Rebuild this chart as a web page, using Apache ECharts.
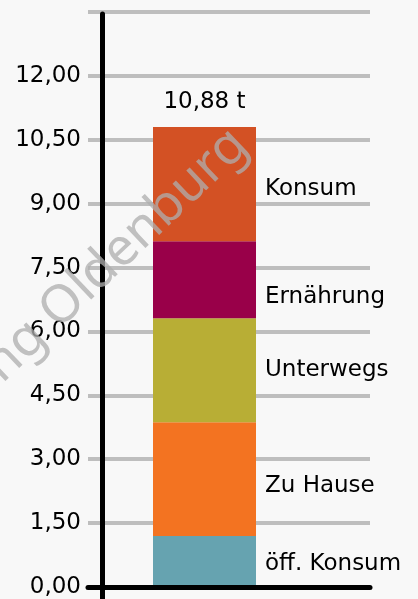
<!DOCTYPE html>
<html>
<head>
<meta charset="utf-8">
<script src="https://cdn.jsdelivr.net/npm/echarts@6/dist/echarts.min.js"></script>
<style>
html,body{margin:0;padding:0;background:#f8f8f8;}
#c{width:418px;height:599px;}
</style>
</head>
<body>
<div id="c"></div>
<script>
const categories = ['öff. Konsum', 'Zu Hause', 'Unterwegs', 'Ernährung', 'Konsum'];
const values = [1.20, 2.67, 2.44, 1.81, 2.68];
const statedTotal = 10.88;
const colors = ['#66a3b0', '#f37321', '#b8ae35', '#990049', '#d35124'];
const labelOffsets = [[0, 3], [0, 7], [0, 0], [0, 17], [0, 5]];
const yMin = 0, yMax = 13.5, yStep = 1.5;
const unit = 't';
const watermark = 'ng Oldenburg';

const FONT = "'DejaVu Sans', sans-serif";
const FS = 23;
const fmt = v => v.toFixed(2).replace('.', ',');

const chart = echarts.init(document.getElementById('c'), null, {renderer: 'canvas'});

const series = categories.map((name, i) => ({
  name: name,
  type: 'bar',
  xAxisIndex: 1,
  yAxisIndex: 1,
  stack: 'sum',
  barWidth: 103,
  data: [values[i]],
  itemStyle: {color: colors[i]},
  label: {
    show: true,
    position: 'right',
    distance: 9,
    offset: labelOffsets[i],
    formatter: name,
    color: '#000',
    fontSize: FS,
    fontFamily: FONT
  },
  z: 3
}));
series.push({
  name: 'Summe',
  type: 'bar',
  xAxisIndex: 1,
  yAxisIndex: 1,
  stack: 'sum',
  barWidth: 103,
  data: [0],
  itemStyle: {color: 'transparent'},
  label: {
    show: true,
    position: 'top',
    distance: 13,
    formatter: fmt(statedTotal) + ' ' + unit,
    color: '#000',
    fontSize: FS,
    fontFamily: FONT
  },
  z: 3
});

chart.setOption({
  backgroundColor: '#f8f8f8',
  animation: false,
  grid: [
    {left: 88, right: 48, top: 12, bottom: 12},
    {left: 102, right: 111, top: 12, bottom: 12},
    {left: 102, width: 1, top: 14, bottom: 0}
  ],
  xAxis: [
    {gridIndex: 0, type: 'category', data: [''], axisLine: {lineStyle: {color: '#000', width: 5}}, axisTick: {show: false}, axisLabel: {show: false}, z: 5},
    {gridIndex: 1, type: 'category', data: [''], show: false},
    {gridIndex: 2, type: 'value', show: false}
  ],
  yAxis: [
    {
      gridIndex: 0, type: 'value', min: yMin, max: yMax, interval: yStep,
      axisLine: {show: false}, axisTick: {show: false},
      axisLabel: {
        margin: 7, color: '#000', fontSize: FS, fontFamily: FONT,
        formatter: v => (v >= yMax ? '' : fmt(v))
      },
      splitLine: {lineStyle: {color: '#bebebe', width: 4}}
    },
    {gridIndex: 1, type: 'value', min: yMin, max: yMax, show: false},
    {
      gridIndex: 2, type: 'value', min: 0, max: 1,
      axisLine: {show: true, lineStyle: {color: '#000', width: 5}},
      axisTick: {show: false}, axisLabel: {show: false}, splitLine: {show: false}, z: 6
    }
  ],
  graphic: [{
    type: 'text',
    x: 10,
    y: 392,
    rotation: 0.76,
    z: 100,
    silent: true,
    style: {
      text: watermark,
      fontSize: 52,
      fontFamily: "'Noto Sans', sans-serif",
      fontWeight: 'normal',
      fill: 'rgba(174,174,174,0.76)',
      textAlign: 'left',
      textVerticalAlign: 'bottom'
    }
  }],
  series: series
});
</script>
</body>
</html>
